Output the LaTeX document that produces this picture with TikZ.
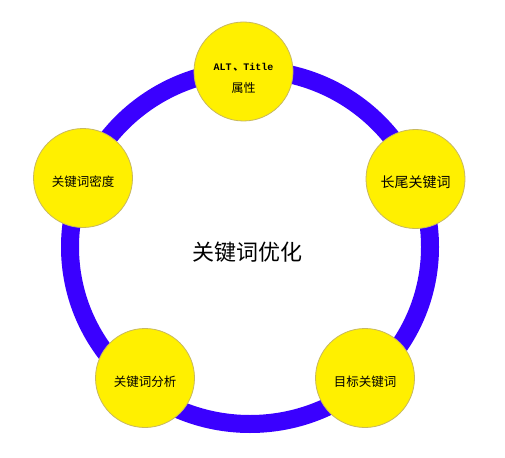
\documentclass[tikz,border=0pt]{standalone}
\usepackage{fontspec}
\setmainfont{Noto Sans CJK SC}
\newfontfamily\cjk{Noto Sans CJK SC}
\newfontfamily\monolat{Liberation Mono}
\definecolor{ringblue}{HTML}{3A00FF}
\definecolor{disc}{HTML}{FFF000}
\definecolor{discline}{HTML}{C8B860}
\tikzset{
  ringline/.style={draw=ringblue, line width=18pt},
  topic/.style={circle, fill=disc, draw=discline, line width=0.8pt,
    minimum size=99pt, inner sep=0pt, font=\cjk\fontsize{12.5pt}{14pt}\selectfont, align=center},
  lbl/.style={inner sep=0pt, font=\cjk\fontsize{12.5pt}{14pt}\selectfont},
  title/.style={font=\cjk\fontsize{22pt}{26pt}\selectfont}
}
\begin{document}
\begin{tikzpicture}[x=1pt,y=-1pt]
\useasboundingbox[fill=white] (0,0) rectangle (505,457);
\draw[ringline] (250,247) ellipse [x radius=180, y radius=177];
\node[title] (center) at (247,252) {关键词优化};
\node[topic] (alt) at (243.5,71.5) {};
\node[lbl, font=\monolat\bfseries\fontsize{10pt}{12pt}\selectfont] (altA) at (243.5,67.5) {ALT\,{\cjk 、}Title};
\node[lbl, font=\cjk\fontsize{12pt}{14pt}\selectfont] (altB) at (243.5,88) {属性};
\node[topic] (longtail) at (415.5,179) {};
\node[lbl, font=\cjk\fontsize{14pt}{16pt}\selectfont] (longtailT) at (415.5,182) {长尾关键词};
\node[topic] (target) at (365,378) {};
\node[lbl] (targetT) at (365,382) {目标关键词};
\node[topic] (analysis) at (145,378) {};
\node[lbl] (analysisT) at (145,382) {关键词分析};
\node[topic] (density) at (83,178) {};
\node[lbl] (densityT) at (83,182) {关键词密度};
\end{tikzpicture}
\end{document}
